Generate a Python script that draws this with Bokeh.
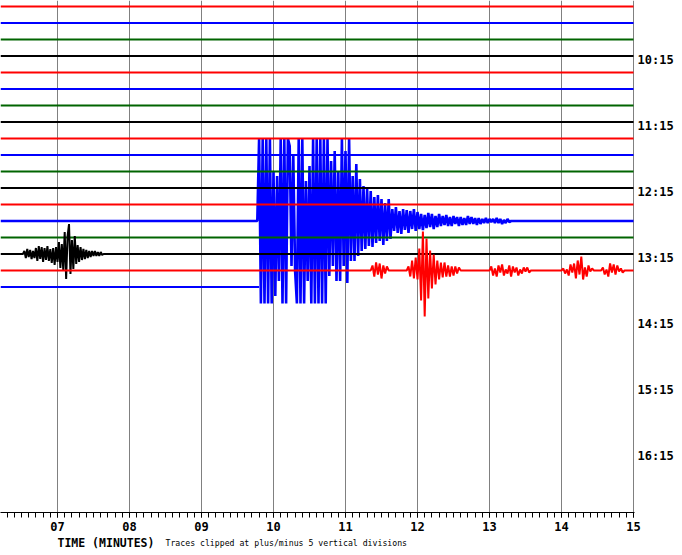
import numpy as np
from bokeh.plotting import figure
from bokeh.layouts import column
from bokeh.models import Range1d, FixedTicker, LinearAxis, Label
from bokeh.embed import file_html
from bokeh.resources import INLINE

# ---------------- data ----------------
T_START = 6.2083          # minutes at the left edge of the drum
T_END = 15.0
minute_ticks = [7, 8, 9, 10, 11, 12, 13, 14, 15]
minute_labels = ["07", "08", "09", "10", "11", "12", "13", "14", "15"]
hour_rows = [3.25, 7.25, 11.25, 15.25, 19.25, 23.25, 27.25]
hour_labels = ["10:15", "11:15", "12:15", "13:15", "14:15", "15:15", "16:15"]

trace_colors = ["#ff0000", "#0000ff", "#006400", "#000000"] * 4 + ["#ff0000", "#0000ff"]
trace_end = [15.0] * 17 + [9.80]

COUNTS_PER_DIV = 16.5
CLIP_DIV = 5

# event on trace 15 (black)
black_q_t0, black_q_dt = 6.52, 0.02
black_q = [0, 3, -4, 5, -3, 4, -5, 3, -4, 6, -7, 8, -5, 7, -8, 6, -6, 8, -7, 5,
           -9, 6, -11, 7, -8, 12, -14, 10, -16, 22, -25, 18, 30, -20, 14, -15, 18,
           -10, 9, -8, 7, -6, 5, -5, 4, -4, 3, -3, 3, -2, 3, -2, 2, -2, 2, -1, 0]

# big event on trace 13 (blue), clipped
blue_q_t0, blue_q_dt = 9.775, 0.025
blue_q = [0, 150, -140, 160, -130, 170, -150, 140, -160,
          50, -75, 45, -60,
          130, -150, 160, -140, 150,
          75, -45, 65, -50,
          -150, 140, -160, 150, -140,
          40, -60, 55,
          -150, 160, -140, 150, -170, 140, -150, 160, -130, 140,
          -55, 60, -45, 70, -60, 50,
          -60, 85, -45, 70, -62, 90, -40,
          45, -40, 57, -35, 42,
          -30, 35, -28, 32, -25, 30, -26,
          24, -22, 26, -20, 22, -24, 18, -20, 22, -18,
          12, -10, 14, -12, 10, -13, 12, -9, 11, -12, 10, -8, 12, -10, 9,
          -8, 7, -9, 6, -7, 8, -6, 7, -8, 5, -6, 7, -5,
          5, -4, 6, -5, 4, -5, 5, -3, 4, -5, 4, -4, 3, -4, 5, -3, 4, -3, 3, -4, 3, -3,
          2, -2, 3, -2, 2, -1, 2, -2, 3, -2, 2, -3, 1, -2, 2, -1, 0]

# events on trace 16 (red)
red_q1_t0, red_q1 = 11.35, [0, 5, -6, 8, -4, 7, -8, 5, -3, 4, 0]
red_q2_t0, red_q2 = 11.85, [0, 4, -6, 10, -8, 13, -9, 22, -30, 39, -46, 32, -28, 20, -18,
                            16, -14, 10, -9, 8, -7, 8, -6, 5, -6, 4, -5, 4, -3, 3, 0]
red_q3_t0, red_q3 = 13.0, [0, 4, -5, 2, -6, 5, -2, 6, -5, 1, -3, 5, -6, 4, -2, 3, -5, 1,
                           -3, 3, -1, 3, -2, 0]
red_q4_t0, red_q4 = 14.0, [0, 2, -3, 1, -5, 6, -2, 7, -8, 10, -4, 14, -9, 3, -6, 5, -1, 2, 0]
red_q5_t0, red_q5 = 14.55, [0, 3, -4, 1, -6, 7, -2, 6, -4, 5, -1, 2, -2, 0]
red_dt = 0.025

events = {
    15: [(black_q_t0, black_q_dt, black_q)],
    13: [(blue_q_t0, blue_q_dt, blue_q)],
    16: [(red_q1_t0, red_dt, red_q1), (red_q2_t0, red_dt, red_q2),
         (red_q3_t0, red_dt, red_q3), (red_q4_t0, red_dt, red_q4),
         (red_q5_t0, red_dt, red_q5)],
}

axis_title = "TIME (MINUTES)"
clip_note = "Traces clipped at plus/minus 5 vertical divisions"

# ---------------- main figure ----------------
FRAME_W, FRAME_H = 634, 512
MAIN_H = 535
PX_PER_MIN = 72.0
PX_PER_ROW = 16.5
top_row = -6 / PX_PER_ROW

p = figure(width=682, height=MAIN_H, output_backend="svg", toolbar_location=None,
           x_range=Range1d(T_START, T_START + FRAME_W / PX_PER_MIN),
           y_range=Range1d(top_row + FRAME_H / PX_PER_ROW, top_row),
           y_axis_location=None,
           min_border_left=0, min_border_top=0, min_border_right=682 - FRAME_W,
           min_border_bottom=MAIN_H - FRAME_H)
p.outline_line_color = None
p.background_fill_color = "white"
p.border_fill_color = "white"

p.ygrid.visible = False
p.xgrid.ticker = FixedTicker(ticks=minute_ticks)
p.xgrid.grid_line_color = "#808080"
p.xgrid.grid_line_width = 1

xa = p.xaxis[0]
xa.ticker = FixedTicker(ticks=minute_ticks,
                        minor_ticks=[v / 10 for v in range(63, 151)])
xa.major_label_overrides = dict(zip(minute_ticks, minute_labels))
xa.axis_line_color = "black"
xa.major_tick_line_color = "black"
xa.minor_tick_line_color = "black"
xa.major_tick_in = 0
xa.major_tick_out = 5
xa.minor_tick_in = 0
xa.minor_tick_out = 5
xa.major_label_standoff = 4
xa.major_label_text_font = "DejaVu Sans Mono"
xa.major_label_text_font_style = "bold"
xa.major_label_text_font_size = "12px"
xa.major_label_text_color = "black"

ya = LinearAxis(ticker=FixedTicker(ticks=hour_rows),
                major_label_overrides=dict(zip(hour_rows, hour_labels)),
                axis_line_color=None, major_tick_line_color=None,
                minor_tick_line_color=None, major_tick_in=0, major_tick_out=0,
                major_label_standoff=3,
                major_label_text_font="DejaVu Sans Mono",
                major_label_text_font_style="bold",
                major_label_text_font_size="12px",
                major_label_text_color="black")
p.add_layout(ya, "right")


def build_trace(row):
    ts = [T_START]
    vs = [0.0]
    for t0, dt, vals in events.get(row, []):
        for k, v in enumerate(vals):
            ts.append(t0 + k * dt)
            vs.append(v)
    ts.append(trace_end[row])
    vs.append(0.0)
    amp = np.clip(np.array(vs, dtype=float) / COUNTS_PER_DIV, -CLIP_DIV, CLIP_DIV)
    return np.array(ts), row - amp


order = [13] + [r for r in range(len(trace_colors)) if r != 13]
for r in order:
    t, y = build_trace(r)
    p.line(t, y, line_color=trace_colors[r], line_width=2 if r != 13 else 2.6)

# ---------------- caption strip ----------------
CAP_H = 555 - MAIN_H
cap = figure(width=682, height=CAP_H, output_backend="svg", toolbar_location=None,
             x_range=Range1d(0, FRAME_W), y_range=Range1d(CAP_H, 0),
             x_axis_location=None, y_axis_location=None,
             min_border_left=0, min_border_right=682 - FRAME_W,
             min_border_top=0, min_border_bottom=0)
cap.outline_line_color = None
cap.grid.visible = False
cap.background_fill_color = "white"
cap.border_fill_color = "white"
cap.add_layout(Label(x=57, y=7, x_units="screen", text=axis_title,
                     text_font="DejaVu Sans Mono",
                     text_font_style="bold", text_font_size="11.5px",
                     text_baseline="middle", text_align="left", text_color="black"))
cap.add_layout(Label(x=165, y=7.5, x_units="screen", text=clip_note,
                     text_font="DejaVu Sans Mono", text_font_size="8.2px",
                     text_baseline="middle", text_align="left", text_color="black"))

layout = column(p, cap, spacing=0)
open("out.html", "w").write(file_html(layout, INLINE))
